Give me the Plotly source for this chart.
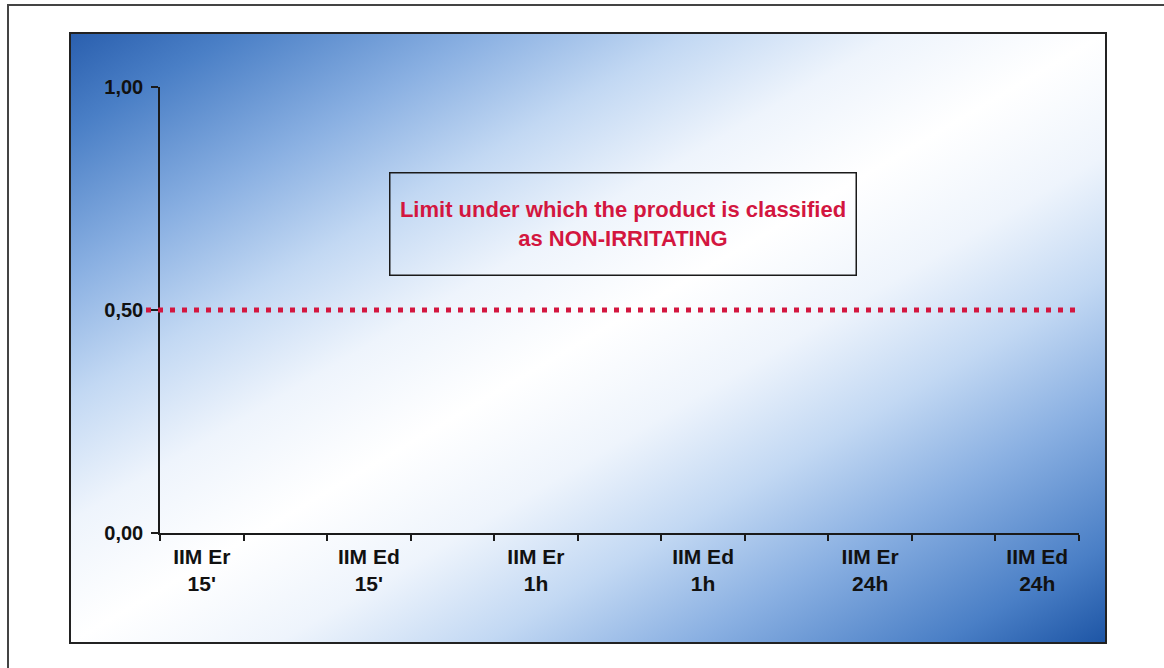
import base64
import plotly.graph_objects as go

# ---- data ----
TICK_LABELS = ["IIM Er<br>15'", "IIM Ed<br>15'", "IIM Er<br>1h", "IIM Ed<br>1h", "IIM Er<br>24h", "IIM Ed<br>24h"]
N_SLOTS = 11                 # category slots on the x axis (labels every 2nd slot)
Y_TICKS = [0.0, 0.5, 1.0]
THRESHOLD = 0.5
NOTE = "Limit under which the product is classified<br>as NON-IRRITATING"

W, H = 1164, 668
L, R, T, B = 160, 85, 87, 135
PW, PH = W - L - R, H - T - B


def px(x):
    return (x - L) / PW


def py(y):
    return (H - B - y) / PH


# gradient background as svg
svg = """<svg xmlns='http://www.w3.org/2000/svg' width='1036' height='610' viewBox='0 0 1036 610' preserveAspectRatio='none'>
<defs><linearGradient id='g' x1='0' y1='0' x2='1' y2='1'>
<stop offset='0' stop-color='#2a5fae'/>
<stop offset='0.08' stop-color='#4a7fc6'/>
<stop offset='0.2' stop-color='#8ab0e2'/>
<stop offset='0.3' stop-color='#c2d8f3'/>
<stop offset='0.4' stop-color='#eef4fc'/>
<stop offset='0.5' stop-color='#ffffff'/>
<stop offset='0.6' stop-color='#eef4fc'/>
<stop offset='0.7' stop-color='#c2d8f3'/>
<stop offset='0.8' stop-color='#8ab0e2'/>
<stop offset='0.92' stop-color='#4a7fc6'/>
<stop offset='1' stop-color='#1d55a5'/>
</linearGradient></defs>
<rect x='0' y='0' width='1036' height='610' fill='url(#g)'/>
</svg>"""
src = "data:image/svg+xml;base64," + base64.b64encode(svg.encode()).decode()

fig = go.Figure()
# invisible trace to establish the axes
fig.add_trace(go.Scatter(x=[-0.5, N_SLOTS - 0.5], y=[THRESHOLD, THRESHOLD], mode="lines",
                         line=dict(width=0), hoverinfo="skip", showlegend=False))

font = dict(family="Arial, 'Liberation Sans', sans-serif", size=20, color="#111111", weight="bold")
xfont = dict(font, size=21)

fig.update_layout(
    width=W, height=H,
    margin=dict(l=L, r=R, t=T, b=B),
    paper_bgcolor="white", plot_bgcolor="rgba(0,0,0,0)",
    separators=",.",
    font=font,
    showlegend=False,
    xaxis=dict(range=[-0.5, N_SLOTS - 0.5], tickvals=[2 * i for i in range(len(TICK_LABELS))],
               ticktext=TICK_LABELS, ticks="", showgrid=False, zeroline=False,
               showline=True, linecolor="#1a1a1a", linewidth=1.5,
               minor=dict(tickvals=[i - 0.5 for i in range(N_SLOTS + 1)], ticks="outside",
                          ticklen=6, tickwidth=1.5, tickcolor="#1a1a1a", showgrid=False),
               tickfont=xfont, ticklabelstandoff=4, fixedrange=True),
    yaxis=dict(range=[0, 1], tickvals=Y_TICKS, tickformat=".2f", ticks="outside", ticklen=7,
               tickwidth=1.5, tickcolor="#1a1a1a", showgrid=False, zeroline=False,
               showline=True, linecolor="#1a1a1a", linewidth=1.5, tickfont=font,
               ticklabelstandoff=4, fixedrange=True),
)

fig.add_layout_image(dict(source=src, xref="paper", yref="paper", x=px(70), y=py(33),
                          sizex=px(1106) - px(70), sizey=py(33) - py(643),
                          xanchor="left", yanchor="top", sizing="stretch", layer="below"))

# inner box border
fig.add_shape(type="rect", xref="paper", yref="paper", x0=px(70), x1=px(1106), y0=py(643), y1=py(33),
              line=dict(color="#222222", width=2), layer="above")
# outer border
fig.add_shape(type="rect", xref="paper", yref="paper", x0=px(8), x1=px(1175), y0=py(680), y1=py(5),
              line=dict(color="#444444", width=2), layer="above")

# threshold dotted line
fig.add_shape(type="line", xref="paper", yref="y", x0=px(146), x1=px(1075), y0=THRESHOLD, y1=THRESHOLD,
              line=dict(color="#d3163f", width=5, dash="5px,7px"), layer="above")

# note box
fig.add_annotation(xref="paper", yref="paper", x=px(622.5), y=py(224.5), xanchor="center", yanchor="middle",
                   text=NOTE, showarrow=False, width=465, height=101, borderpad=0,
                   bordercolor="#1a1a1a", borderwidth=1.5, align="center",
                   font=dict(family="Arial, 'Liberation Sans', sans-serif", size=22, color="#d3163f", weight="bold"))

fig.write_html("out.html", config={"displayModeBar": False},
               post_script="document.body.style.margin='0';document.body.style.overflow='hidden';")
